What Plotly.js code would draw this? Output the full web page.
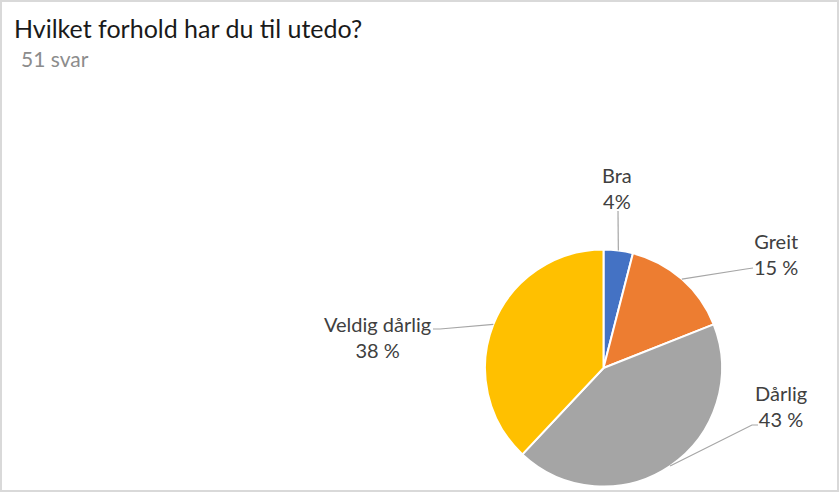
<!DOCTYPE html>
<html>
<head>
<meta charset="utf-8">
<script src="https://cdn.plot.ly/plotly-3.0.1.min.js"></script>
<style>
  html, body { margin: 0; padding: 0; background: #fff; }
  #wrap { position: relative; width: 839px; height: 493px; }
  #chart { width: 839px; height: 493px; }
  #frame { position: absolute; left: 0; top: 0; width: 839px; height: 492px; box-sizing: border-box; border: 2px solid #d9d9d9; pointer-events: none; }
</style>
</head>
<body>
<div id="wrap"><div id="chart"></div><div id="frame"></div></div>
<script>
// ---- data ----
const categories = ["Bra", "Greit", "Dårlig", "Veldig dårlig"];
const values = [4, 15, 43, 38];
const pctLabels = ["4%", "15 %", "43 %", "38 %"];
const colors = ["#4472C4", "#ED7D31", "#A5A5A5", "#FFC000"];
const titleText = "Hvilket forhold har du til utedo?";
const subtitleText = "51 svar";

// ---- layout (pixels) ----
const W = 839, H = 493;
const cx = 603.5, cy = 368, R = 118.5;
// label text centres and leader-line start points (pixels)
const labelPos = [[617, 188], [776, 254], [781, 406], [377, 337]];
const lineStart = [[[618, 211]], [[753, 268], [746, 269]], [[758, 425], [752, 425]], [[433, 329], [440, 329]]];

const px = x => x / W;
const py = y => 1 - y / H;

const total = values.reduce((a, b) => a + b, 0);
let cum = 0;
const anchors = values.map(v => {
  const mid = (cum + v / 2) / total;
  cum += v;
  const a = mid * 2 * Math.PI;
  return [cx + R * Math.sin(a), cy - R * Math.cos(a)];
});

const shapes = anchors.map((p, i) => {
  const pts = lineStart[i].concat([p]);
  const path = pts.map((q, k) => (k ? 'L' : 'M') + px(q[0]).toFixed(5) + ',' + py(q[1]).toFixed(5)).join(' ');
  return { type: 'path', xref: 'paper', yref: 'paper', path: path, line: { color: '#A6A6A6', width: 1.2 } };
});

const annotations = categories.map((c, i) => ({
  xref: 'paper', yref: 'paper', x: px(labelPos[i][0]), y: py(labelPos[i][1]),
  xanchor: 'center', yanchor: 'middle', showarrow: false, align: 'center',
  text: c + '<br>' + pctLabels[i],
  font: { family: 'Lato, sans-serif', size: 20, color: '#404040' }
}));
annotations.push({
  xref: 'paper', yref: 'paper', x: px(12), y: py(28), xanchor: 'left', yanchor: 'middle', showarrow: false,
  text: titleText, font: { family: 'Lato, sans-serif', size: 25, color: '#1a1a1a' }
});
annotations.push({
  xref: 'paper', yref: 'paper', x: px(19), y: py(58), xanchor: 'left', yanchor: 'middle', showarrow: false,
  text: subtitleText, font: { family: 'Lato, sans-serif', size: 21, color: '#8c8c8c' }
});

const trace = {
  type: 'pie', labels: categories, values: values, sort: false, direction: 'clockwise', rotation: 0,
  marker: { colors: colors, line: { color: '#ffffff', width: 2 } },
  textinfo: 'none', hoverinfo: 'label+percent', showlegend: false,
  domain: { x: [px(cx - R), px(cx + R)], y: [py(cy + R), py(cy - R)] }
};

Plotly.newPlot('chart', [trace], {
  width: W, height: H, margin: { l: 0, r: 0, t: 0, b: 0 },
  paper_bgcolor: '#ffffff', showlegend: false,
  shapes: shapes, annotations: annotations
}, { displayModeBar: false, staticPlot: true });
</script>
</body>
</html>
